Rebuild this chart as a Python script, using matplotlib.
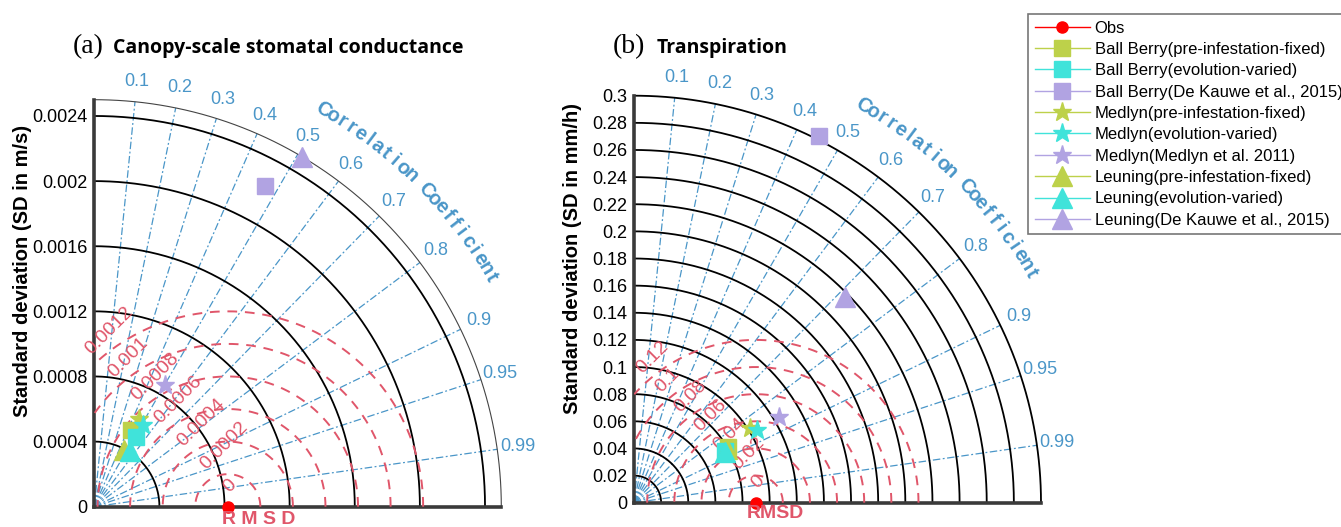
# taylor.py - Taylor diagrams for canopy conductance and transpiration
import numpy as np
import matplotlib.pyplot as plt
from matplotlib.lines import Line2D

# ------------------------------
# DATA
# ------------------------------
model_names = [
    "Ball Berry(pre-infestation-fixed)",
    "Ball Berry(evolution-varied)",
    "Ball Berry(De Kauwe et al., 2015)",
    "Medlyn(pre-infestation-fixed)",
    "Medlyn(evolution-varied)",
    "Medlyn(Medlyn et al. 2011)",
    "Leuning(pre-infestation-fixed)",
    "Leuning(evolution-varied)",
    "Leuning(De Kauwe et al., 2015)",
]

# (a) canopy-scale stomatal conductance, m/s
gs_obs_sd = 0.00082
gs_sd = [0.000521, 0.000499, 0.002234, 0.000606, 0.000585, 0.000864, 0.000391, 0.000403, 0.002498]
gs_corr = [0.43, 0.51, 0.47, 0.45, 0.51, 0.50, 0.46, 0.54, 0.51]
gs_sd_ticks = [0, 0.0004, 0.0008, 0.0012, 0.0016, 0.002, 0.0024]
gs_sd_labels = ["0", "0.0004", "0.0008", "0.0012", "0.0016", "0.002", "0.0024"]
gs_rms_ticks = [0, 0.0002, 0.0004, 0.0006, 0.0008, 0.001, 0.0012]
gs_rms_labels = ["0", "0.0002", "0.0004", "0.0006", "0.0008", "0.001", "0.0012"]
gs_sd_max = 0.0025

# (b) transpiration, mm/h
tr_obs_sd = 0.0897
tr_sd = [0.0808, 0.0770, 0.3028, 0.1018, 0.1051, 0.1242, 0.0790, 0.0769, 0.2173]
tr_corr = [0.860, 0.868, 0.451, 0.840, 0.860, 0.862, 0.865, 0.872, 0.716]
tr_sd_ticks = [0, 0.02, 0.04, 0.06, 0.08, 0.1, 0.12, 0.14, 0.16, 0.18, 0.2,
               0.22, 0.24, 0.26, 0.28, 0.3]
tr_sd_labels = ["0", "0.02", "0.04", "0.06", "0.08", "0.1", "0.12", "0.14", "0.16",
                "0.18", "0.2", "0.22", "0.24", "0.26", "0.28", "0.3"]
tr_rms_ticks = [0, 0.02, 0.04, 0.06, 0.08, 0.1, 0.12]
tr_rms_labels = ["0", "0.02", "0.04", "0.06", "0.08", "0.1", "0.12"]
tr_sd_max = 0.3

corr_ticks = [0.1, 0.2, 0.3, 0.4, 0.5, 0.6, 0.7, 0.8, 0.9, 0.95, 0.99]
corr_labels = ["0.1", "0.2", "0.3", "0.4", "0.5", "0.6", "0.7", "0.8", "0.9", "0.95", "0.99"]

# ------------------------------
# STYLE
# ------------------------------
W, H, DPI = 1341, 527, 100
GREEN = "#BDD14A"
CYAN = "#40E3DA"
PURPLE = "#B1A3E2"
BLUE = "#4A96C8"
RED = "#E0566A"
model_colors = [GREEN, CYAN, PURPLE] * 3
model_markers = ["s"] * 3 + ["*"] * 3 + ["^"] * 3
model_ms = [11] * 3 + [14] * 3 + [15] * 3

plt.rcParams["font.family"] = ["Liberation Sans", "DejaVu Sans"]


# ------------------------------
# HELPERS
# ------------------------------
def draw_taylor(ax, obs_sd, sds, corrs, sd_ticks, sd_labels, rms_ticks, rms_labels,
                sd_max, outer_arc):
    ax.set_xlim(0, sd_max)
    ax.set_ylim(0, sd_max)
    th = np.linspace(0, np.pi / 2, 300)

    # correlation rays
    for c, lab in zip(corr_ticks, corr_labels):
        a = np.arccos(c)
        ax.plot([0, sd_max * np.cos(a)], [0, sd_max * np.sin(a)], color=BLUE, lw=0.9,
                ls=(0, (6, 2, 1.5, 2)), zorder=1)
        ax.text(1.05 * sd_max * np.cos(a), 1.05 * sd_max * np.sin(a), lab, color=BLUE,
                fontsize=13, ha="center", va="center", clip_on=False)

    # standard deviation arcs
    for s in sd_ticks[1:]:
        ax.plot(s * np.cos(th), s * np.sin(th), color="black", lw=1.3, zorder=2,
                clip_on=False)
    if outer_arc:
        ax.plot(sd_max * np.cos(th), sd_max * np.sin(th), color="#444444", lw=0.8,
                zorder=2, clip_on=False)

    # RMSD contours around the observation
    tc = np.linspace(0, np.pi, 600)
    for r, lab in zip(rms_ticks, rms_labels):
        if r > 0:
            x = obs_sd + r * np.cos(tc)
            y = r * np.sin(tc)
            keep = (x >= 0) & (np.hypot(x, y) <= sd_max)
            x = np.where(keep, x, np.nan)
            ax.plot(x, y, color=RED, lw=1.4, ls=(0, (5, 4)), zorder=3)
        a = np.deg2rad(135)
        ax.annotate(lab, xy=(obs_sd + r * np.cos(a), r * np.sin(a)),
                    xytext=(-1.1, 11.9), textcoords="offset points", color=RED,
                    fontsize=14, rotation=45, rotation_mode="anchor",
                    ha="left", va="center", annotation_clip=False)

    # curved "Correlation Coefficient"
    word = "Correlation Coefficient"
    angs = np.linspace(60, 30, len(word))
    for ch, ang in zip(word, angs):
        a = np.deg2rad(ang)
        ax.text(1.126 * sd_max * np.cos(a), 1.126 * sd_max * np.sin(a), ch,
                color=BLUE, fontsize=14.5, fontweight="bold", rotation=ang - 90,
                rotation_mode="anchor", ha="center", va="center", clip_on=False)

    # observation + models
    ax.plot([obs_sd], [0], "o", color="red", ms=8, zorder=6, clip_on=False,
            ls="-", lw=1)
    for s, c, col, m, ms in zip(sds, corrs, model_colors, model_markers, model_ms):
        a = np.arccos(c)
        ax.plot([s * np.cos(a)], [s * np.sin(a)], marker=m, color=col, ms=ms,
                ls="-", lw=1, zorder=5, clip_on=False)

    # axes frame
    for side in ["top", "right"]:
        ax.spines[side].set_visible(False)
    for side in ["left", "bottom"]:
        ax.spines[side].set_linewidth(2.6)
        ax.spines[side].set_color("#3a3a3a")
    ax.set_xticks([])
    ax.set_yticks(sd_ticks)
    ax.set_yticklabels(sd_labels)
    ax.tick_params(axis="y", length=0, pad=5, labelsize=13)
    ax.set_facecolor("none")


# ------------------------------
# MAIN
# ------------------------------
def main():
    fig = plt.figure(figsize=(W / DPI, H / DPI), dpi=DPI)
    side = 407

    ax1 = fig.add_axes([94.3 / W, (H - 506.7) / H, side / W, side / H])
    draw_taylor(ax1, gs_obs_sd, gs_sd, gs_corr, gs_sd_ticks, gs_sd_labels,
                gs_rms_ticks, gs_rms_labels, gs_sd_max, True)

    ax2 = fig.add_axes([634 / W, (H - 502.7) / H, side / W, side / H])
    draw_taylor(ax2, tr_obs_sd, tr_sd, tr_corr, tr_sd_ticks, tr_sd_labels,
                tr_rms_ticks, tr_rms_labels, tr_sd_max, False)

    # y labels
    fig.text(23 / W, 1 - 271 / H, "Standard deviation (SD in m/s)", rotation=90,
             fontsize=14.5, fontweight="bold", ha="center", va="center")
    fig.text(572 / W, 1 - 259 / H, "Standard deviation (SD in mm/h)", rotation=90,
             fontsize=14.5, fontweight="bold", ha="center", va="center")

    # RMSD labels
    fig.text(259 / W, 1 - 519 / H, "R M S D", color=RED, fontsize=14,
             fontweight="bold", ha="center", va="center")
    fig.text(775 / W, 1 - 514 / H, "RMSD", color=RED, fontsize=14,
             fontweight="bold", ha="center", va="center")

    # titles
    fig.text(73 / W, 1 - 47 / H, "(a)", family="Liberation Serif", fontsize=20,
             ha="left", va="center")
    fig.text(113 / W, 1 - 48 / H, "Canopy-scale stomatal conductance",
             family="Open Sans", fontweight="bold", fontsize=14, ha="left", va="center")
    fig.text(613 / W, 1 - 47 / H, "(b)", family="Liberation Serif", fontsize=20,
             ha="left", va="center")
    fig.text(657 / W, 1 - 48 / H, "Transpiration",
             family="Open Sans", fontweight="bold", fontsize=14, ha="left", va="center")

    # legend
    handles = [Line2D([], [], color="red", marker="o", ms=8, lw=1)]
    for col, m, ms in zip(model_colors, model_markers, model_ms):
        handles.append(Line2D([], [], color=col, marker=m, ms=ms, lw=1))
    leg = fig.legend(handles, ["Obs"] + model_names, loc="upper left",
                     bbox_to_anchor=(1028 / W, 1 - 14 / H), borderaxespad=0,
                     fontsize=12, handlelength=3.3, handletextpad=0.3,
                     labelspacing=0.38, borderpad=0.4, fancybox=False,
                     framealpha=1, edgecolor="#777777")
    leg.get_frame().set_linewidth(1.2)

    fig.savefig("out.png", dpi=DPI)


if __name__ == "__main__":
    main()
